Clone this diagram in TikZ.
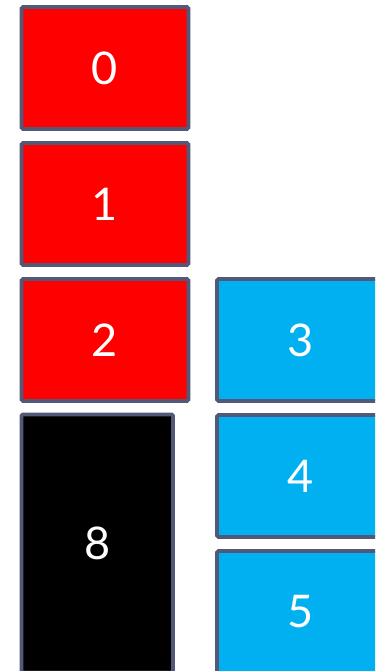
\documentclass[tikz,border=0pt]{standalone}
\usepackage{fontspec}
\setmainfont{Lato}
\usepackage{tikz}
\usetikzlibrary{positioning}

\definecolor{boxred}{RGB}{255,0,0}
\definecolor{boxblue}{RGB}{0,176,240}
\definecolor{boxedge}{RGB}{82,88,120}

\begin{document}
\begin{tikzpicture}[x=0.025cm, y=-0.025cm,
    cell/.style={draw=boxedge, line width=2.6pt, rounded corners=1pt,
                 minimum width=4.175cm, minimum height=3.05cm, inner sep=0pt,
                 text=white, font=\fontsize{32}{36}\selectfont},
    redcell/.style={cell, fill=boxred},
    bluecell/.style={cell, fill=boxblue},
    tallcell/.style={cell, fill=black, minimum width=3.79cm, minimum height=6.45cm}]

    % frame of the picture
    \useasboundingbox (0,0) rectangle (375,671);
    \clip (0,0) rectangle (375,671);

    % left column
    \foreach \i in {0,1,2}{
      \node[redcell] (R\i) at (105, 68 + \i*136) {\i};
    }
    \node[tallcell] (K8) at (97.25, 543.5) {8};

    % right column
    \foreach \i/\ypos in {3/340, 4/476, 5/612}{
      \node[bluecell] (B\i) at (300.5, \ypos) {\i};
    }

\end{tikzpicture}
\end{document}
